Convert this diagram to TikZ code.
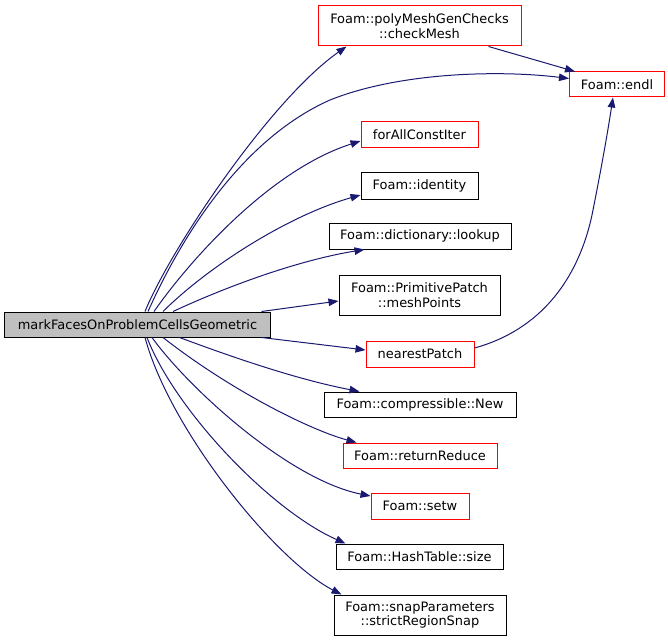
\documentclass[tikz,border=0pt]{standalone}
\usepackage{fontspec}
\setmainfont{DejaVu Sans}
\usetikzlibrary{arrows.meta,calc}
\definecolor{edgeblue}{HTML}{191970}
\definecolor{boxred}{HTML}{FF0000}
\definecolor{mainfill}{HTML}{BFBFBF}
\tikzset{
  fn/.style={draw=black, line width=1bp, inner sep=0pt, align=center,
    font=\fontsize{13}{14.5}\selectfont, minimum height=26bp},
  fnred/.style={fn, draw=boxred},
  fnmain/.style={fn, fill=mainfill},
  call/.style={draw=edgeblue, line width=1bp,
    -{Triangle[length=10bp,width=7.5bp]}},
}
\begin{document}
\begin{tikzpicture}[x=1bp,y=-1bp]
\useasboundingbox (0,0) rectangle (668,641);
\node[fnmain, minimum width=265bp, minimum height=25bp] (main) at (137.5,324.5) {markFacesOnProblemCellsGeometric};
\node[fnred, minimum width=203bp, minimum height=40bp] (checkMesh) at (419.5,26) {Foam::polyMeshGenChecks\\::checkMesh};
\node[fnred, minimum width=95bp, minimum height=25bp] (endl) at (617,84.5) {Foam::endl};
\node[fnred, minimum width=117bp] (forall) at (419.5,135) {forAllConstIter};
\node[fn, minimum width=117bp] (identity) at (419.5,186) {Foam::identity};
\node[fn, minimum width=182bp] (lookup) at (420,236) {Foam::dictionary::lookup};
\node[fn, minimum width=161bp, minimum height=40bp] (meshPoints) at (419.5,295) {Foam::PrimitivePatch\\::meshPoints};
\node[fnred, minimum width=108bp] (nearest) at (420,354) {nearestPatch};
\node[fn, minimum width=192bp, minimum height=25bp] (compNew) at (420,404.5) {Foam::compressible::New};
\node[fnred, minimum width=154bp, minimum height=25bp] (reduce) at (420,455.5) {Foam::returnReduce};
\node[fnred, minimum width=98bp] (setw) at (420,506) {Foam::setw};
\node[fn, minimum width=167bp, minimum height=25bp] (hsize) at (419.5,556.5) {Foam::HashTable::size};
\node[fn, minimum width=172bp, minimum height=40bp] (snap) at (420,615) {Foam::snapParameters\\::strictRegionSnap};

% edges
\draw[call] ($(main.north)+(7.5,0)$) .. controls (170,250) and (270,100) .. ($(checkMesh.south west)+(29,0)$);
\draw[call] ($(main.north)+(10.5,0)$) .. controls (180,240) and (240,140) .. (330,100) .. controls (400,72) and (500,70) .. ($(endl.west)+(0,-6)$);
\draw[call] ($(main.north)+(16.5,0)$) .. controls (190,260) and (270,170) .. ($(forall.west)+(0,6)$);
\draw[call] ($(main.north)+(25.5,0)$) .. controls (210,265) and (290,215) .. ($(identity.west)+(0,9)$);
\draw[call] ($(main.north)+(35.5,0)$) .. controls (230,285) and (300,260) .. ($(lookup.south west)+(36,0)$);
\draw[call] ($(main.north east)+(-9,0)$) -- ($(meshPoints.west)+(0,6)$);
\draw[call] ($(main.south east)+(-9,0)$) -- ($(nearest.west)+(0,-4)$);
\draw[call] ($(main.south)+(42,0)$) .. controls (240,360) and (300,380) .. ($(compNew.north west)+(36,0)$);
\draw[call] ($(main.south)+(25.5,0)$) .. controls (230,390) and (310,430) .. ($(reduce.north west)+(14,0)$);
\draw[call] ($(main.south)+(14.5,0)$) .. controls (190,390) and (290,480) .. ($(setw.west)+(0,-10)$);
\draw[call] ($(main.south)+(9.5,0)$) .. controls (175,410) and (270,510) .. ($(hsize.north west)+(10,0)$);
\draw[call] ($(main.south)+(7.5,0)$) .. controls (170,430) and (275,560) .. ($(snap.north west)+(8,0)$);
\draw[call] ($(checkMesh.south east)+(-33,0)$) -- ($(endl.north west)+(6,0)$);
\draw[call] ($(nearest.east)+(0,-6)$) .. controls (540,330) and (578,280) .. (592,215) .. controls (602,165) and (608,130) .. ($(endl.south)+(-4,0)$);
\end{tikzpicture}
\end{document}
